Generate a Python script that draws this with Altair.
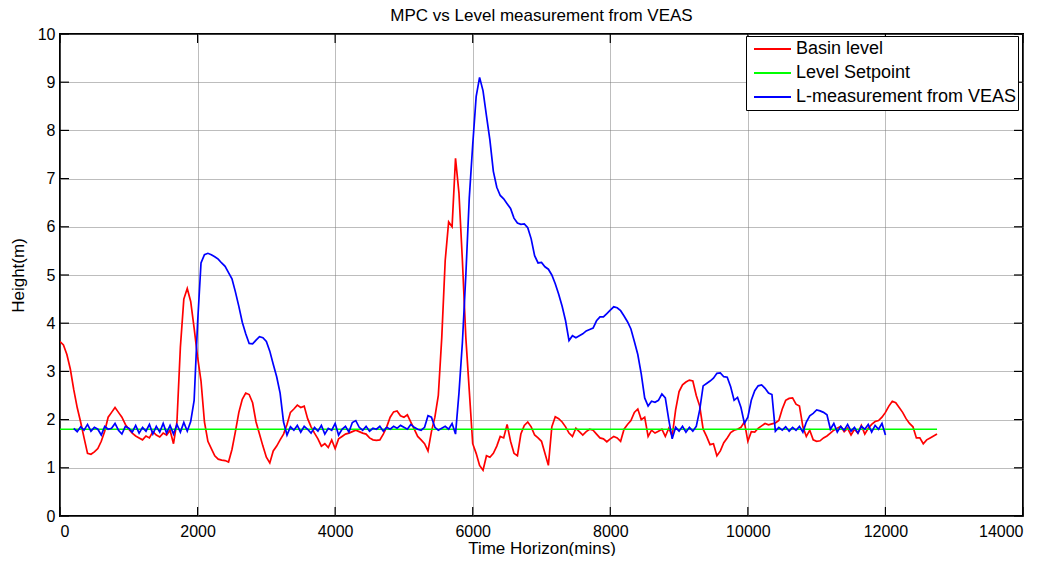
import altair as alt
import pandas as pd
import numpy as np

title_text = "MPC vs Level measurement from VEAS"
series_names = ["Basin level", "Level Setpoint", "L-measurement from VEAS"]
series_colors = ["#ff0000", "#00ff00", "#0000ff"]
x_ticks = [0, 2000, 4000, 6000, 8000, 10000, 12000, 14000]
y_ticks = [0, 1, 2, 3, 4, 5, 6, 7, 8, 9, 10]

# Basin level, sampled every 50 min from t=0
red_step = 50
red_y = [
    3.62, 3.55, 3.35, 3.05, 2.62, 2.25, 1.95, 1.62, 1.30, 1.28,
    1.33, 1.40, 1.55, 1.76, 2.05, 2.15, 2.25, 2.15, 2.05, 1.90,
    1.80, 1.72, 1.66, 1.62, 1.58, 1.66, 1.62, 1.75, 1.68, 1.64,
    1.72, 1.68, 1.78, 1.50, 1.95, 3.50, 4.50, 4.72, 4.45, 3.90,
    3.30, 2.80, 1.95, 1.55, 1.40, 1.25, 1.18, 1.16, 1.15, 1.12,
    1.38, 1.75, 2.15, 2.42, 2.55, 2.52, 2.35, 1.95, 1.70, 1.45,
    1.22, 1.10, 1.35, 1.45, 1.58, 1.70, 1.90, 2.15, 2.22, 2.30,
    2.25, 2.28, 2.02, 1.85, 1.72, 1.60, 1.45, 1.50, 1.42, 1.58,
    1.40, 1.60, 1.65, 1.70, 1.72, 1.75, 1.78, 1.75, 1.72, 1.70,
    1.62, 1.58, 1.57, 1.58, 1.70, 1.85, 2.05, 2.16, 2.18, 2.08,
    2.05, 2.10, 1.95, 1.80, 1.65, 1.58, 1.50, 1.35, 1.75, 2.05,
    2.50, 3.70, 5.30, 6.10, 6.00, 7.42, 6.70, 5.30, 3.70, 2.60,
    1.50, 1.30, 1.05, 0.95, 1.25, 1.22, 1.30, 1.45, 1.65, 1.62,
    1.90, 1.55, 1.30, 1.25, 1.70, 1.88, 1.95, 1.85, 1.68, 1.62,
    1.55, 1.30, 1.05, 1.85, 2.06, 2.02, 1.95, 1.85, 1.72, 1.65,
    1.82, 1.75, 1.68, 1.75, 1.80, 1.78, 1.70, 1.62, 1.60, 1.54,
    1.60, 1.65, 1.62, 1.55, 1.80, 1.90, 1.98, 2.15, 2.22, 2.00,
    2.05, 1.65, 1.78, 1.72, 1.76, 1.80, 1.65, 1.82, 1.66, 2.20,
    2.58, 2.72, 2.78, 2.82, 2.80, 2.50, 2.28, 1.80, 1.65, 1.48,
    1.50, 1.25, 1.35, 1.52, 1.62, 1.73, 1.78, 1.80, 1.84, 1.95,
    1.55, 1.75, 1.74, 1.82, 1.87, 1.92, 1.89, 1.91, 1.93, 1.98,
    2.22, 2.40, 2.44, 2.45, 2.32, 2.28, 1.85, 1.65, 1.78, 1.58,
    1.55, 1.56, 1.62, 1.66, 1.72, 1.78, 1.82, 1.86, 1.75, 1.82,
    1.68, 1.80, 1.72, 1.88, 1.70, 1.82, 1.90, 1.96, 1.98, 2.05,
    2.15, 2.28, 2.38, 2.35, 2.25, 2.15, 2.02, 1.92, 1.85, 1.62,
    1.62, 1.50, 1.58, 1.62, 1.66, 1.70,
]

# L-measurement from VEAS, sampled every 50 min from t=200
blue_start = 200
blue_step = 50
blue_y = [
    1.82, 1.75, 1.85, 1.78, 1.90, 1.76, 1.84, 1.80, 1.68, 1.86,
    1.80, 1.82, 1.92, 1.78, 1.70, 1.86, 1.82, 1.74, 1.88, 1.72,
    1.84, 1.76, 1.90, 1.70, 1.86, 1.74, 1.92, 1.72, 1.88, 1.70,
    1.90, 1.74, 1.94, 1.76, 1.96, 2.40, 4.00, 5.25, 5.42, 5.45,
    5.42, 5.38, 5.33, 5.25, 5.18, 5.05, 4.92, 4.65, 4.35, 4.02,
    3.78, 3.58, 3.57, 3.65, 3.72, 3.70, 3.62, 3.42, 3.15, 2.89,
    2.55, 1.95, 1.68, 1.85, 1.78, 1.88, 1.74, 1.86, 1.80, 1.72,
    1.84, 1.76, 1.88, 1.70, 1.82, 1.78, 1.92, 1.68, 1.80, 1.86,
    1.74, 1.94, 1.98, 1.84, 1.78, 1.86, 1.76, 1.82, 1.80, 1.86,
    1.76, 1.84, 1.80, 1.86, 1.82, 1.88, 1.84, 1.80, 1.90, 1.84,
    1.80, 1.78, 1.84, 2.08, 2.05, 1.84, 1.78, 1.82, 1.86, 1.80,
    1.92, 1.70, 2.55, 3.60, 5.00, 6.60, 7.70, 8.70, 9.10, 8.82,
    8.30, 7.80, 7.15, 6.82, 6.65, 6.58, 6.48, 6.38, 6.18, 6.08,
    6.05, 6.06, 5.98, 5.75, 5.40, 5.25, 5.26, 5.17, 5.12, 5.00,
    4.82, 4.60, 4.35, 4.05, 3.64, 3.74, 3.70, 3.74, 3.78, 3.84,
    3.87, 3.90, 4.05, 4.13, 4.13, 4.20, 4.27, 4.34, 4.32, 4.26,
    4.15, 4.03, 3.88, 3.62, 3.35, 2.95, 2.45, 2.28, 2.38, 2.36,
    2.40, 2.53, 2.45, 2.00, 1.60, 1.84, 1.76, 1.86, 1.74, 1.84,
    1.76, 1.86, 2.20, 2.70, 2.75, 2.80, 2.86, 2.96, 2.97, 2.89,
    2.88, 2.68, 2.40, 2.46, 2.25, 1.92, 2.05, 2.40, 2.60, 2.70,
    2.72, 2.65, 2.55, 2.52, 1.76, 1.84, 1.78, 1.85, 1.76, 1.84,
    1.78, 1.86, 1.74, 1.95, 2.08, 2.13, 2.20, 2.18, 2.15, 2.10,
    1.80, 1.92, 1.74, 1.86, 1.78, 1.90, 1.76, 1.84, 1.72, 1.86,
    1.80, 1.90, 1.74, 1.88, 1.80, 1.92, 1.68,
]

setpoint_x = [0, 12750]
setpoint_y = [1.8, 1.8]

FONT = "Liberation Sans"
W, H = 963, 482

red_df = pd.DataFrame({"t": np.arange(len(red_y)) * red_step, "h": red_y, "series": series_names[0]})
green_df = pd.DataFrame({"t": setpoint_x, "h": setpoint_y, "series": series_names[1]})
blue_df = pd.DataFrame({"t": blue_start + np.arange(len(blue_y)) * blue_step, "h": blue_y, "series": series_names[2]})

x_enc = alt.X("t:Q", scale=alt.Scale(domain=[0, 14000], nice=False),
              axis=alt.Axis(values=x_ticks, format="d", title="Time Horizon(mins)",
                            labelPadding=7, titleBaseline="alphabetic", titleY=37))
y_enc = alt.Y("h:Q", scale=alt.Scale(domain=[0, 10], nice=False),
              axis=alt.Axis(values=y_ticks, format="d", title="Height(m)",
                            labelPadding=5, titlePadding=10))
color_enc = alt.Color("series:N",
                      scale=alt.Scale(domain=series_names, range=series_colors),
                      legend=alt.Legend(orient="none", legendX=686, legendY=2, title=None,
                                        symbolType="stroke", symbolSize=1369, symbolStrokeWidth=2,
                                        symbolOffset=6,
                                        labelFont=FONT, labelFontSize=18, labelColor="black",
                                        labelOffset=4, padding=1, strokeColor="black",
                                        fillColor="white", clipHeight=24, rowPadding=0,
                                        labelLimit=400))


def line(df):
    return alt.Chart(df).mark_line(strokeWidth=1.7, clip=True).encode(x=x_enc, y=y_enc, color=color_enc)


xt = pd.DataFrame({"t": x_ticks})
yt = pd.DataFrame({"h": y_ticks})
tick_bottom = alt.Chart(xt).mark_rule(color="black", strokeWidth=1.2).encode(
    x=x_enc, y=alt.value(H), y2=alt.value(H - 9))
tick_top = alt.Chart(xt).mark_rule(color="black", strokeWidth=1.2).encode(
    x=x_enc, y=alt.value(0), y2=alt.value(9))
tick_left = alt.Chart(yt).mark_rule(color="black", strokeWidth=1.2).encode(
    y=y_enc, x=alt.value(0), x2=alt.value(9))
tick_right = alt.Chart(yt).mark_rule(color="black", strokeWidth=1.2).encode(
    y=y_enc, x=alt.value(W), x2=alt.value(W - 9))

chart = alt.layer(
    line(red_df), line(green_df), line(blue_df),
    tick_bottom, tick_top, tick_left, tick_right,
).properties(
    width=W, height=H,
    title=alt.TitleParams(title_text, font=FONT, fontSize=17, fontWeight="normal",
                          color="black", anchor="middle", offset=1),
    autosize=alt.AutoSizeParams(type="none"),
    padding={"left": 52, "top": 26, "right": 26, "bottom": 40},
).configure_view(
    stroke="black", strokeWidth=2,
).configure_axis(
    domain=False, ticks=False,
    labelFont=FONT, labelFontSize=16, labelColor="black",
    titleFont=FONT, titleFontSize=17, titleColor="black", titleFontWeight="normal",
    grid=True, gridColor="#7a7a7a", gridDash=[1, 1], gridWidth=1,
)

chart.save("out.html", embed_options={"renderer": "svg", "actions": False})
